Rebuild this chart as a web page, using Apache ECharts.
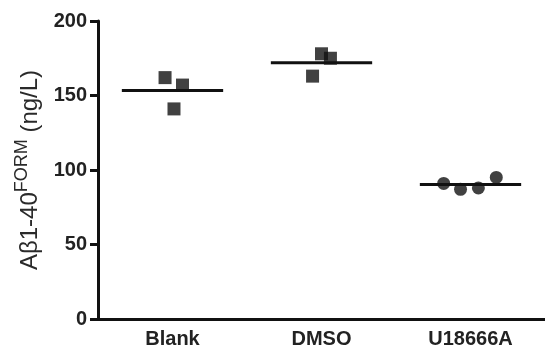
<!DOCTYPE html>
<html>
<head>
<meta charset="utf-8">
<script src="https://cdn.jsdelivr.net/npm/echarts@6/dist/echarts.min.js"></script>
<style>
  html, body { margin: 0; padding: 0; background: #fff; }
  #chart { width: 545px; height: 354px; }
</style>
</head>
<body>
<div id="chart"></div>
<script>
// groups on the x axis
var categories = ["Blank", "DMSO", "U18666A"];
// measured values (ng/L)
var blankValues = [162, 157, 141];
var dmsoValues = [178, 175, 163];
var u18666aValues = [91, 87, 88, 95];
// horizontal scatter of each point, in category widths
var blankJitter = [-0.05, 0.067, 0.01];
var dmsoJitter = [0, 0.06, -0.06];
var u18666aJitter = [-0.18, -0.067, 0.053, 0.173];
var yTicks = [0, 50, 100, 150, 200];

var lineHalf = 0.34;
var ink = "#111";

function mean(arr) {
  var s = 0;
  arr.forEach(function (v) { s += v; });
  return s / arr.length;
}

// points for one group: [index + jitter, value]
function points(idx, vals, jit) {
  return vals.map(function (v, i) { return [idx + jit[i], v]; });
}

function meanLine(idx, vals) {
  var m = mean(vals);
  return {
    type: "line",
    xAxisIndex: 1,
    data: [[idx - lineHalf, m], [idx + lineHalf, m]],
    symbol: "none",
    lineStyle: { color: ink, width: 3 },
    silent: true,
    z: 1
  };
}

function dots(idx, vals, jit, shape, size) {
  return {
    type: "scatter",
    xAxisIndex: 1,
    data: points(idx, vals, jit),
    symbol: shape,
    symbolSize: size,
    itemStyle: { color: ink },
    z: 3
  };
}

var chart = echarts.init(document.getElementById("chart"));
chart.setOption({
  animation: false,
  grid: { left: 98, right: 0, top: 21, bottom: 35 },
  xAxis: [
    {
      type: "category",
      data: categories,
      axisLine: { lineStyle: { color: ink, width: 3 } },
      axisTick: { alignWithLabel: true, length: 7, lineStyle: { color: ink, width: 3 } },
      axisLabel: {
        color: "#222",
        fontFamily: "Liberation Sans",
        fontWeight: "bold",
        fontSize: 20,
        margin: 10
      }
    },
    {
      type: "value",
      min: -0.5,
      max: 2.5,
      show: false
    }
  ],
  yAxis: {
    type: "value",
    min: yTicks[0],
    max: yTicks[yTicks.length - 1],
    interval: 50,
    axisLine: { show: true, onZero: false, lineStyle: { color: ink, width: 3 } },
    axisTick: { show: true, length: 8, lineStyle: { color: ink, width: 3 } },
    splitLine: { show: false },
    axisLabel: {
      color: "#222",
      fontFamily: "Liberation Sans",
      fontWeight: "bold",
      fontSize: 20,
      margin: 11
    },
    name: "{a|A\u03b21-40}{s|FORM}{a| (ng/L)}",
    nameLocation: "middle",
    nameRotate: 90,
    nameGap: 51,
    nameTextStyle: {
      rich: {
        a: { fontFamily: "Liberation Sans", fontSize: 24, color: "#2a2a2a", lineHeight: 34, verticalAlign: "middle" },
        s: { fontFamily: "Liberation Sans", fontSize: 18, color: "#2a2a2a", lineHeight: 18, verticalAlign: "top" }
      }
    }
  },
  series: [
    meanLine(0, blankValues),
    meanLine(1, dmsoValues),
    meanLine(2, u18666aValues),
    dots(0, blankValues, blankJitter, "rect", 13),
    dots(1, dmsoValues, dmsoJitter, "rect", 13),
    dots(2, u18666aValues, u18666aJitter, "circle", 13)
  ]
});
</script>
</body>
</html>
